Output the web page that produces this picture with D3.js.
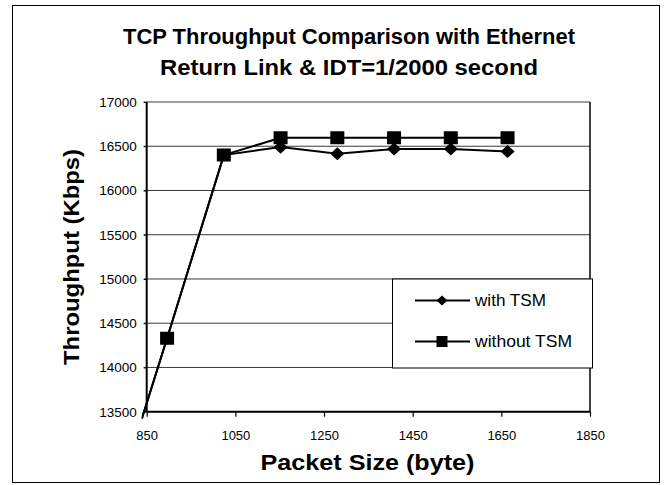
<!DOCTYPE html>
<html>
<head>
<meta charset="utf-8">
<script src="https://cdn.jsdelivr.net/npm/d3@7"></script>
<style>
  body { margin: 0; background: #fff; }
  svg { display: block; font-family: "Liberation Sans", Arial, sans-serif; }
</style>
</head>
<body>
<svg id="chart" width="671" height="485"></svg>
<script>
// Data (packet sizes in bytes, throughput in Kbps)
const packetSizes = [768, 896, 1024, 1152, 1280, 1408, 1536, 1664];
const withTSM     = [12290, 14330, 16400, 16490, 16415, 16470, 16470, 16440];
const withoutTSM  = [12290, 14330, 16400, 16595, 16595, 16595, 16595, 16595];
const seriesNames = ["with TSM", "without TSM"];
const xTicks = [850, 1050, 1250, 1450, 1650, 1850];
const yTicks = [13500, 14000, 14500, 15000, 15500, 16000, 16500, 17000];
const titleLines = ["TCP Throughput Comparison with Ethernet", "Return Link & IDT=1/2000 second"];

const svg = d3.select("#chart");
const L = 146.7, R = 590, T = 102, B = 411.7;

const x = d3.scaleLinear().domain([850, 1850]).range([L, R]);
const y = d3.scaleLinear().domain([13500, 17000]).range([B, T]);

// outer frame
svg.append("rect").attr("x", 12.5).attr("y", 5.5).attr("width", 647).attr("height", 477)
  .attr("fill", "#fff").attr("stroke", "#000").attr("stroke-width", 1);

// title
const titleWidths = [452, 378];
svg.append("g").selectAll("text").data(titleLines).join("text")
  .attr("x", 349).attr("y", (d, i) => 44 + i * 31)
  .attr("text-anchor", "middle").attr("font-size", 21.5).attr("font-weight", "bold")
  .attr("textLength", (d, i) => titleWidths[i]).attr("lengthAdjust", "spacingAndGlyphs")
  .text(d => d);

// gridlines
svg.append("g").selectAll("line").data(yTicks).join("line")
  .attr("x1", L - 3).attr("x2", R).attr("y1", d => y(d)).attr("y2", d => y(d))
  .attr("stroke", "#3a3a3a").attr("stroke-width", 1);

// right border of plot
svg.append("line").attr("x1", R).attr("x2", R).attr("y1", T).attr("y2", B)
  .attr("stroke", "#000").attr("stroke-width", 1.5);

// y axis
const yAxis = svg.append("g").attr("transform", `translate(${L},0)`)
  .call(d3.axisLeft(y).tickValues(yTicks).tickSize(3).tickPadding(7).tickFormat(d3.format("d")));
yAxis.select(".domain").attr("stroke", "#000").attr("stroke-width", 2).attr("d", `M0,${T}V${B}`);
yAxis.selectAll("text").attr("font-size", 13.5).attr("font-family", "Liberation Sans, Arial, sans-serif").attr("fill", "#000");

// x axis
const xAxis = svg.append("g").attr("transform", `translate(0,${B})`)
  .call(d3.axisBottom(x).tickValues(xTicks).tickSize(5).tickPadding(14).tickFormat(d3.format("d")));
xAxis.select(".domain").attr("stroke", "#000").attr("stroke-width", 2).attr("d", `M${L},0H${R}`);
xAxis.selectAll(".tick line").attr("stroke-width", 1.2);
xAxis.selectAll("text").attr("font-size", 13).attr("font-family", "Liberation Sans, Arial, sans-serif").attr("fill", "#000");

// axis titles
svg.append("text").attr("transform", "translate(79,257) rotate(-90)")
  .attr("text-anchor", "middle").attr("font-size", 21.5).attr("font-weight", "bold")
  .attr("textLength", 216).attr("lengthAdjust", "spacingAndGlyphs")
  .text("Throughput (Kbps)");
svg.append("text").attr("x", 367.5).attr("y", 470)
  .attr("text-anchor", "middle").attr("font-size", 21.5).attr("font-weight", "bold")
  .attr("textLength", 214).attr("lengthAdjust", "spacingAndGlyphs")
  .text("Packet Size (byte)");

// clip (Excel draws slightly beyond plot area)
svg.append("defs").append("clipPath").attr("id", "clip")
  .append("rect").attr("x", L - 5).attr("y", T - 8).attr("width", R - L + 10).attr("height", B - T + 15);

const line = d3.line().x(d => x(d[0])).y(d => y(d[1]));
const dataA = packetSizes.map((p, i) => [p, withTSM[i]]);
const dataB = packetSizes.map((p, i) => [p, withoutTSM[i]]);

const plot = svg.append("g").attr("clip-path", "url(#clip)");
plot.append("path").datum(dataA).attr("d", line).attr("fill", "none").attr("stroke", "#000").attr("stroke-width", 2);
plot.append("path").datum(dataB).attr("d", line).attr("fill", "none").attr("stroke", "#000").attr("stroke-width", 2);

// custom marker shapes (slightly wider than tall, as in the source)
function diamondType(rx, ry) {
  return { draw(ctx) { ctx.moveTo(0, -ry); ctx.lineTo(rx, 0); ctx.lineTo(0, ry); ctx.lineTo(-rx, 0); ctx.closePath(); } };
}
function rectType(rx, ry) {
  return { draw(ctx) { ctx.rect(-rx, -ry, 2 * rx, 2 * ry); } };
}
const diamond = d3.symbol().type(diamondType(7, 6.5));
const square = d3.symbol().type(rectType(7, 6.5));

const inRange = d => d[0] >= 850 && d[0] <= 1850;
plot.append("g").selectAll("path").data(dataA.filter(inRange)).join("path")
  .attr("d", diamond).attr("transform", d => `translate(${x(d[0])},${y(d[1])})`).attr("fill", "#000");
plot.append("g").selectAll("path").data(dataB.filter(inRange)).join("path")
  .attr("d", square).attr("transform", d => `translate(${x(d[0])},${y(d[1])})`).attr("fill", "#000");

// legend
const lg = svg.append("g");
lg.append("rect").attr("x", 392.5).attr("y", 279).attr("width", 200).attr("height", 89)
  .attr("fill", "#fff").attr("stroke", "#000").attr("stroke-width", 1);
const legendWidths = [71, 97];
const items = lg.selectAll("g.item").data(seriesNames).join("g").attr("class", "item")
  .attr("transform", (d, i) => `translate(0,${300.5 + i * 41})`);
items.append("line").attr("x1", 415).attr("x2", 470).attr("y1", 0).attr("y2", 0)
  .attr("stroke", "#000").attr("stroke-width", 2);
items.append("path").attr("d", (d, i) => i === 0 ? d3.symbol().type(diamondType(5.5, 5))() : d3.symbol().type(rectType(5.5, 5.5))())
  .attr("transform", "translate(442,0)").attr("fill", "#000");
items.append("text").attr("x", 475).attr("y", 5.5).attr("font-size", 16.5)
  .attr("textLength", (d, i) => legendWidths[i]).attr("lengthAdjust", "spacingAndGlyphs")
  .text(d => d);
</script>
</body>
</html>
